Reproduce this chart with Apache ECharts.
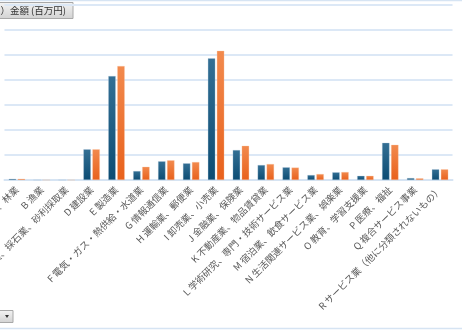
<!DOCTYPE html>
<html>
<head>
<meta charset="utf-8">
<script src="https://cdn.jsdelivr.net/npm/echarts@6/dist/echarts.min.js"></script>
<style>
html,body{margin:0;padding:0;background:#fff;}
#c{width:462px;height:330px;}
</style>
</head>
<body>
<div id="c"></div>
<script>
var categories = ["A 農業、林業","B 漁業","C 鉱業、採石業、砂利採取業","D 建設業","E 製造業","F 電気・ガス・熱供給・水道業","G 情報通信業","H 運輸業、郵便業","I 卸売業、小売業","J 金融業、保険業","K 不動産業、物品賃貸業","L 学術研究、専門・技術サービス業","M 宿泊業、飲食サービス業","N 生活関連サービス業、娯楽業","O 教育、学習支援業","P 医療、福祉","Q 複合サービス事業","R サービス業（他に分類されないもの）"];
var seriesA = [0.05,0,0,1.23,4.16,0.36,0.75,0.67,4.87,1.2,0.6,0.51,0.2,0.31,0.17,1.49,0.08,0.43];
var seriesB = [0.05,0,0,1.23,4.56,0.53,0.79,0.72,5.17,1.37,0.64,0.5,0.24,0.32,0.17,1.41,0.07,0.43];
var titleText = "売上（収入）金額 (百万円)";

var chart = echarts.init(document.getElementById('c'));
function grad(top, bottom){
  return new echarts.graphic.LinearGradient(0,0,0,1,[{offset:0,color:top},{offset:1,color:bottom}]);
}
chart.setOption({
  animation:false,
  grid:{left:4.5,right:9.5,top:5,bottom:150,containLabel:false,outerBoundsMode:'none'},
  xAxis:{
    type:'category',
    data:categories,
    axisLine:{lineStyle:{color:'#d6e4f3',width:2}},
    axisTick:{show:false},
    axisLabel:{interval:0,rotate:45,fontSize:9.5,color:'#5a5a5a',margin:8,fontFamily:'Noto Sans CJK JP',hideOverlap:false}
  },
  yAxis:{
    type:'value',min:0,max:7,interval:1,
    axisLabel:{show:false},axisLine:{show:false},axisTick:{show:false},
    splitLine:{lineStyle:{color:'#dce8f6',width:2}}
  },
  series:[
    {type:'bar',data:seriesA,barWidth:7.5,barGap:'20%',
     itemStyle:{color:grad('#336f94','#0c4c73'),borderColor:'rgba(180,200,220,0.6)',borderWidth:0.5}},
    {type:'bar',data:seriesB,barWidth:7.5,
     itemStyle:{color:grad('#f28a4e','#e8611c'),borderColor:'rgba(250,200,170,0.6)',borderWidth:0.5}}
  ],
  graphic:[
    {type:'rect',shape:{x:0,y:0.5,width:462,height:0},style:{stroke:'#d6e4f3',lineWidth:1.5}},
    {type:'rect',shape:{x:0,y:328.5,width:462,height:0},style:{stroke:'#d6e4f3',lineWidth:1.5}},
    {type:'rect',shape:{x:-5,y:2.5,width:78,height:16},
     style:{fill:grad('#f4f4f4','#d2d2d2'),stroke:'#a8a8a8',lineWidth:1}},
    {type:'text',x:66,y:10.5,style:{text:titleText,fontSize:9.5,fill:'#333',align:'right',verticalAlign:'middle',fontFamily:'Noto Sans CJK JP'}},
    {type:'rect',shape:{x:-5,y:310.5,width:18,height:12},
     style:{fill:grad('#f4f4f4','#d2d2d2'),stroke:'#a8a8a8',lineWidth:1}},
    {type:'polygon',shape:{points:[[5,315],[9,315],[7,318]]},style:{fill:'#333'}}
  ]
});
</script>
</body>
</html>
